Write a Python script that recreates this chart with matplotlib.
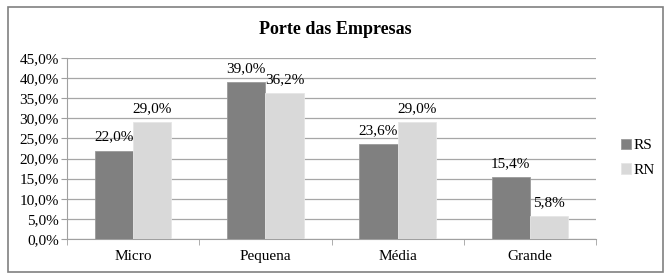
import numpy as np
import matplotlib.pyplot as plt
from matplotlib.patches import Rectangle

categories = ['Micro', 'Pequena', 'Média', 'Grande']
rs = [22.0, 39.0, 23.6, 15.4]
rn = [29.0, 36.2, 29.0, 5.8]
yticks = [0, 5, 10, 15, 20, 25, 30, 35, 40, 45]

plt.rcParams['font.family'] = ['Liberation Serif', 'DejaVu Serif']

fig = plt.figure(figsize=(6.71, 2.79), dpi=100)
ax = fig.add_axes([67 / 671, 1 - 239 / 279, (596 - 67) / 671, (239 - 58) / 279])

x = np.arange(len(categories))
w = 0.29
b1 = ax.bar(x - w / 2, rs, w, color='#808080', edgecolor='#9a9a9a', linewidth=0.6, label='RS', zorder=3)
b2 = ax.bar(x + w / 2, rn, w, color='#d9d9d9', edgecolor='#e6e6e6', linewidth=0.6, label='RN', zorder=3)

for bars, vals in ((b1, rs), (b2, rn)):
    for r, v in zip(bars, vals):
        ax.annotate(('%.1f%%' % v).replace('.', ','), (r.get_x() + r.get_width() / 2, v),
                    xytext=(0, 5), textcoords='offset points', ha='center', va='bottom', fontsize=11)

ax.set_xlim(-0.5, 3.5)
ax.set_ylim(0, 45)
ax.set_yticks(yticks)
ax.set_yticklabels([('%.1f%%' % t).replace('.', ',') for t in yticks], fontsize=11)
ax.set_xticks(x)
ax.set_xticklabels(categories, fontsize=11)
ax.set_xticks(np.arange(-0.5, 4, 1), minor=True)
ax.tick_params(axis='x', which='major', length=0, pad=8)
ax.tick_params(axis='x', which='minor', length=4, color='#a0a0a0')
ax.tick_params(axis='y', length=4, color='#a0a0a0', pad=2)
ax.yaxis.grid(True, color='#a6a6a6', linewidth=0.9, zorder=0)
ax.set_axisbelow(True)
for s in ['top', 'right']:
    ax.spines[s].set_visible(False)
ax.spines['left'].set_color('#a0a0a0')
ax.spines['bottom'].set_color('#a0a0a0')

fig.text(0.5, 1 - 30 / 279, 'Porte das Empresas', ha='center', va='center', fontsize=13, fontweight='bold')

ax.legend(loc='center left', bbox_to_anchor=(1.035, 0.45), frameon=False, fontsize=11,
          handlelength=0.7, handleheight=0.7, handletextpad=0.15, labelspacing=0.7, borderaxespad=0)

fig.patches.append(Rectangle((8 / 671, 1 - 272 / 279), 655 / 671, 265 / 279, transform=fig.transFigure,
                             fill=False, edgecolor='#808080', linewidth=1.2))

plt.savefig('out.png', dpi=100)
